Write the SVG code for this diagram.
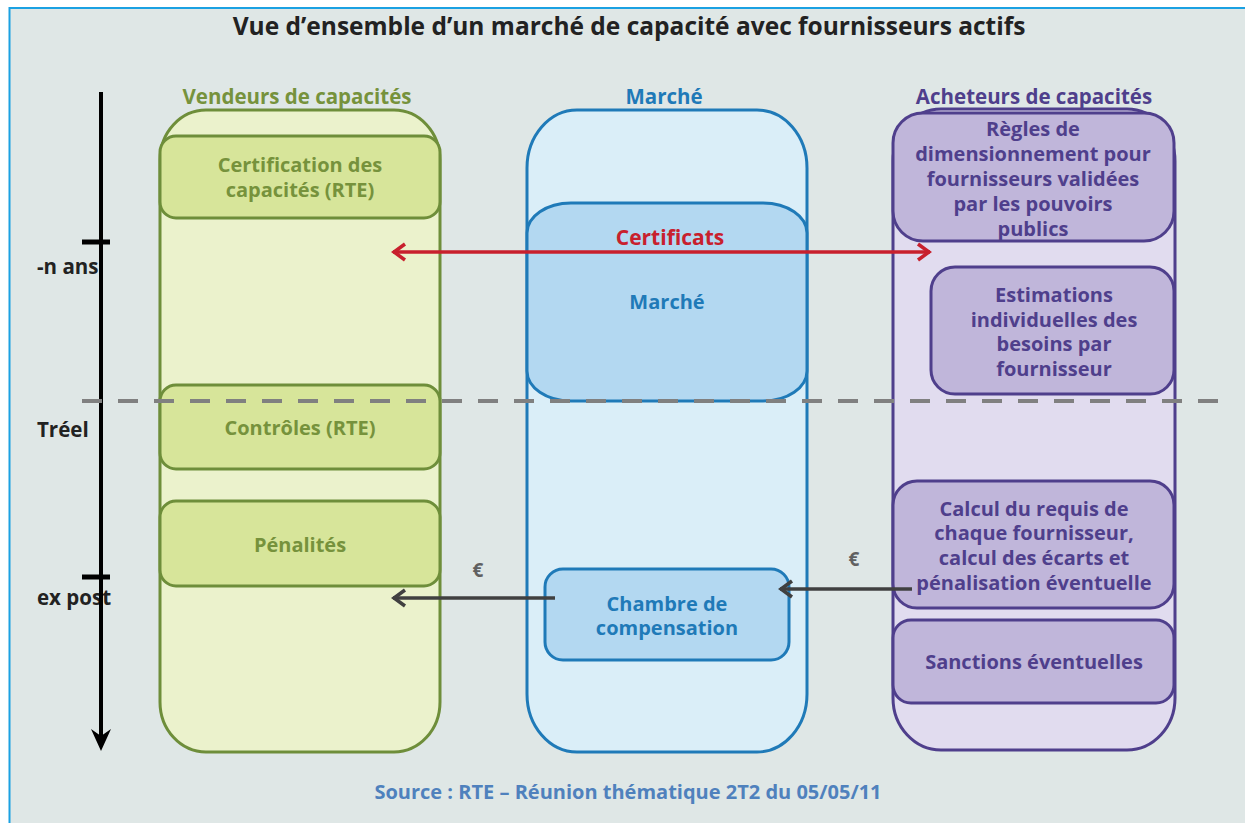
<svg xmlns="http://www.w3.org/2000/svg" width="1245" height="825" viewBox="0 0 1245 825">
<defs>
<style>
text{font-family:"Open Sans","Liberation Sans",sans-serif;font-weight:bold;text-anchor:middle}
.g{fill:#76923C;font-size:20px}
.b{fill:#1F7AB8;font-size:20px}
.p{fill:#4F3F8C;font-size:20px}
.h{font-size:20.5px}
.k{fill:#222;font-size:20.5px;text-anchor:start}
.gcol{fill:#EBF2CC;stroke:#6E8E3A;stroke-width:3}
.gbox{fill:#D7E59A;stroke:#6E8E3A;stroke-width:3}
.bcol{fill:#DAEEF8;stroke:#1F7AB8;stroke-width:3}
.bbox{fill:#B3D8F1;stroke:#1F7AB8;stroke-width:3}
.pcol{fill:#E1DCEF;stroke:#4F3F8C;stroke-width:3}
.pbox{fill:#C0B6DA;stroke:#4F3F8C;stroke-width:3}
</style>
<marker id="ar" markerUnits="userSpaceOnUse" markerWidth="20" markerHeight="20" refX="18" refY="10" orient="auto-start-reverse" viewBox="0 0 20 20">
<path d="M6,2 L17,10 L6,18" fill="none" stroke="#C8202D" stroke-width="3.5"/>
</marker>
<marker id="ak" markerUnits="userSpaceOnUse" markerWidth="20" markerHeight="20" refX="18" refY="10" orient="auto" viewBox="0 0 20 20">
<path d="M6,2 L17,10 L6,18" fill="none" stroke="#404040" stroke-width="3.5"/>
</marker>
</defs>
<rect x="0" y="0" width="1245" height="825" fill="#fff"/>
<rect x="9" y="7" width="1240" height="816" fill="#DFE7E6"/>
<line x1="9" y1="8" x2="1245" y2="8" stroke="#1BA1E2" stroke-width="2"/>
<line x1="9.5" y1="7" x2="9.5" y2="823" stroke="#1BA1E2" stroke-width="2"/>

<text x="629" y="35" style="font-size:24.5px;fill:#222">Vue d’ensemble d’un marché de capacité avec fournisseurs actifs</text>

<g id="vendeurs">
<text class="g h" x="297" y="104">Vendeurs de capacités</text>
<rect class="gcol" x="160" y="110" width="280" height="642" rx="46" ry="50"/>
</g>
<g id="certification">
<rect class="gbox" x="160" y="136" width="280" height="82" rx="16"/>
<text class="g" x="300" y="172">Certification des</text>
<text class="g" x="300" y="197">capacités (RTE)</text>
</g>
<g id="controles">
<rect class="gbox" x="160" y="385" width="280" height="84" rx="16"/>
<text class="g" x="300" y="435">Contrôles (RTE)</text>
</g>
<g id="penalites">
<rect class="gbox" x="160" y="501" width="280" height="85" rx="16"/>
<text class="g" x="300" y="552">Pénalités</text>
</g>

<g id="marche-col">
<text class="b h" x="664" y="104">Marché</text>
<rect class="bcol" x="527" y="110" width="280" height="642" rx="50" ry="58"/>
</g>
<g id="marche">
<rect class="bbox" x="527" y="203" width="280" height="198" rx="44" ry="30"/>
<text class="b" x="667" y="309">Marché</text>
</g>
<g id="chambre">
<rect class="bbox" x="545" y="569" width="244" height="91" rx="18"/>
<text class="b" x="667" y="611">Chambre de</text>
<text class="b" x="667" y="635">compensation</text>
</g>

<g id="acheteurs">
<text class="p h" x="1034" y="104">Acheteurs de capacités</text>
<rect class="pcol" x="893" y="109" width="282" height="641" rx="48" ry="52"/>
</g>
<g id="regles">
<rect class="pbox" x="893" y="113" width="281" height="128" rx="30"/>
<text class="p" x="1033" y="136">Règles de</text>
<text class="p" x="1033" y="161">dimensionnement pour</text>
<text class="p" x="1033" y="186">fournisseurs validées</text>
<text class="p" x="1033" y="211">par les pouvoirs</text>
<text class="p" x="1033" y="236">publics</text>
</g>
<g id="estimations">
<rect class="pbox" x="931" y="267" width="243" height="127" rx="24"/>
<text class="p" x="1054" y="302">Estimations</text>
<text class="p" x="1054" y="327">individuelles des</text>
<text class="p" x="1054" y="351">besoins par</text>
<text class="p" x="1054" y="376">fournisseur</text>
</g>
<g id="calcul">
<rect class="pbox" x="893" y="481" width="281" height="127" rx="24"/>
<text class="p" x="1034" y="516">Calcul du requis de</text>
<text class="p" x="1034" y="540">chaque fournisseur,</text>
<text class="p" x="1034" y="565">calcul des écarts et</text>
<text class="p" x="1034" y="590">pénalisation éventuelle</text>
</g>
<g id="sanctions">
<rect class="pbox" x="893" y="620" width="281" height="83" rx="18"/>
<text class="p" x="1034" y="669">Sanctions éventuelles</text>
</g>

<g id="axe">
<text class="k" x="37" y="274">-n ans</text>
<text class="k" x="37" y="437">Tréel</text>
<text class="k" x="37" y="605">ex post</text>
<line x1="101" y1="92" x2="101" y2="738" stroke="#000" stroke-width="4"/>
<path d="M101,751 L91,729 L101,736 L111,729 Z" fill="#000"/>
<line x1="82" y1="242" x2="110" y2="242" stroke="#000" stroke-width="5"/>
<line x1="82" y1="577" x2="110" y2="577" stroke="#000" stroke-width="5"/>
</g>

<g id="connectors">
<line x1="82" y1="401" x2="1222" y2="401" stroke="#808080" stroke-width="4" stroke-dasharray="20,16"/>
<line x1="393" y1="252" x2="930" y2="252" stroke="#C8202D" stroke-width="3.5" marker-start="url(#ar)" marker-end="url(#ar)"/>
<text x="670" y="245" style="fill:#C8202D;font-size:21px">Certificats</text>
<line x1="555" y1="598" x2="393" y2="598" stroke="#404040" stroke-width="3.5" marker-end="url(#ak)"/>
<line x1="912" y1="589" x2="780" y2="589" stroke="#404040" stroke-width="3.5" marker-end="url(#ak)"/>
<text x="478" y="577" style="fill:#606060;font-size:19px">€</text>
<text x="854" y="566" style="fill:#606060;font-size:19px">€</text>
</g>

<text x="628" y="799" style="fill:#4F81BD;font-size:20px">Source : RTE – Réunion thématique 2T2 du 05/05/11</text>
</svg>
